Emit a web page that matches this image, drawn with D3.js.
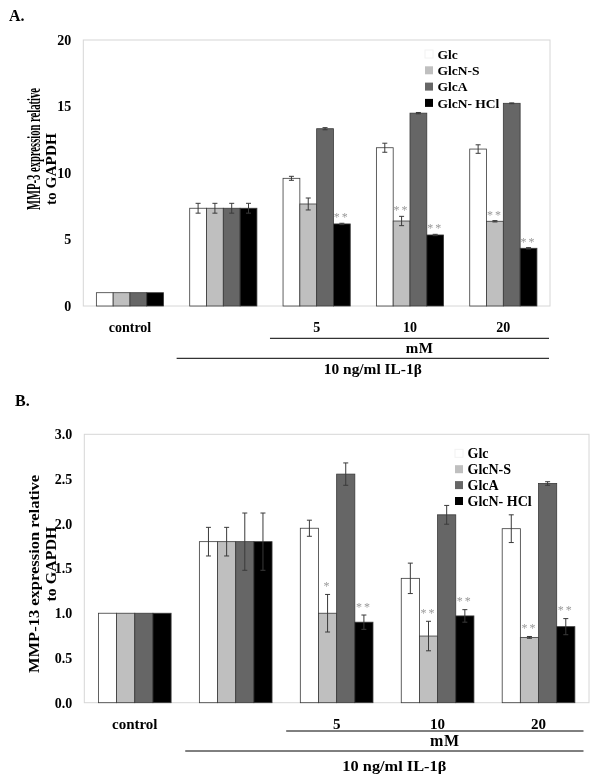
<!DOCTYPE html>
<html>
<head>
<meta charset="utf-8">
<script src="https://cdn.jsdelivr.net/npm/d3@7"></script>
<style>
  html, body { margin: 0; padding: 0; background: #fff; }
  svg { display: block; will-change: transform; }
</style>
</head>
<body>
<svg id="chart" width="600" height="783"></svg>
<script>
// ---------- DATA ----------
const groups = ["control", "", "5", "10", "20"];
const series = ["Glc", "GlcN-S", "GlcA", "GlcN- HCl"];
const seriesColors = ["#ffffff", "#bfbfbf", "#666666", "#000000"];

// Panel A: MMP-3
const mmp3Glc      = [1.0, 7.35, 9.6, 11.9, 11.8];
const mmp3GlcNS    = [1.0, 7.35, 7.67, 6.39, 6.37];
const mmp3GlcA     = [1.0, 7.35, 13.33, 14.5, 15.24];
const mmp3GlcNHCl  = [1.0, 7.35, 6.17, 5.34, 4.34];
const mmp3GlcErr     = [0, 0.37, 0.15, 0.34, 0.32];
const mmp3GlcNSErr   = [0, 0.37, 0.45, 0.35, 0.05];
const mmp3GlcAErr    = [0, 0.37, 0.08, 0.05, 0.03];
const mmp3GlcNHClErr = [0, 0.37, 0.05, 0.05, 0.05];
const mmp3Ticks = [0, 5, 10, 15, 20];
const mmp3Sig = [["5", "GlcN- HCl", "**"], ["10", "GlcN-S", "**"], ["10", "GlcN- HCl", "**"],
                 ["20", "GlcN-S", "**"], ["20", "GlcN- HCl", "**"]];

// Panel B: MMP-13
const mmp13Glc      = [1.0, 1.80, 1.95, 1.39, 1.945];
const mmp13GlcNS    = [1.0, 1.80, 1.0, 0.745, 0.73];
const mmp13GlcA     = [1.0, 1.80, 2.555, 2.10, 2.45];
const mmp13GlcNHCl  = [1.0, 1.80, 0.90, 0.97, 0.85];
const mmp13GlcErr     = [0, 0.16, 0.09, 0.17, 0.155];
const mmp13GlcNSErr   = [0, 0.16, 0.21, 0.165, 0.01];
const mmp13GlcAErr    = [0, 0.32, 0.125, 0.105, 0.02];
const mmp13GlcNHClErr = [0, 0.32, 0.08, 0.07, 0.09];
const mmp13Ticks = [0, 0.5, 1.0, 1.5, 2.0, 2.5, 3.0];
const mmp13Sig = [["5", "GlcN-S", "*"], ["5", "GlcN- HCl", "**"], ["10", "GlcN-S", "**"],
                  ["10", "GlcN- HCl", "**"], ["20", "GlcN-S", "**"], ["20", "GlcN- HCl", "**"]];

const concLabel = "mM";
const stimLabel = "10 ng/ml IL-1\u03b2";

// ---------- DRAWING ----------
const serif = "'Liberation Serif', 'Times New Roman', serif";
const svg = d3.select("#chart");

function drawPanel(cfg) {
  const g = svg.append("g");
  const x = d3.scaleBand().domain(groups).range([cfg.left, cfg.right])
    .paddingInner(0.28).paddingOuter(0.14);
  const xs = d3.scaleBand().domain(series).range([0, x.bandwidth()]);
  const y = d3.scaleLinear().domain([0, cfg.max]).range([cfg.bottom, cfg.top]);

  // panel letter
  g.append("text").attr("x", cfg.letterX).attr("y", cfg.letterY)
    .attr("font-family", serif).attr("font-weight", "bold").attr("font-size", 16)
    .text(cfg.letter);

  // frame
  g.append("rect").attr("x", cfg.left).attr("y", cfg.top)
    .attr("width", cfg.right - cfg.left).attr("height", cfg.bottom - cfg.top)
    .attr("fill", "none").attr("stroke", "#d6d6d6").attr("stroke-width", 1);

  // y axis
  const ya = g.append("g").attr("transform", `translate(${cfg.left},0)`)
    .call(d3.axisLeft(y).tickValues(cfg.ticks).tickSize(0).tickPadding(12).tickFormat(cfg.fmt));
  ya.select(".domain").remove();
  ya.selectAll("text").attr("font-family", serif).attr("font-weight", "bold")
    .attr("font-size", 14).attr("fill", "#000");

  // y title
  const tl = g.append("g").attr("font-family", serif).attr("font-weight", "bold")
    .attr("text-anchor", "middle");
  cfg.titles.forEach(t => {
    tl.append("text").attr("transform", `translate(${t.x},${t.y}) rotate(-90)`)
      .attr("font-size", t.size)
      .attr("dy", "0.35em").attr("textLength", t.len).attr("lengthAdjust", "spacingAndGlyphs")
      .text(t.text);
  });

  // bars
  series.forEach((s, si) => {
    g.append("g").selectAll("rect").data(groups).join("rect")
      .attr("x", d => x(d) + xs(s))
      .attr("y", (d, i) => y(cfg.values[si][i]))
      .attr("width", xs.bandwidth())
      .attr("height", (d, i) => y(0) - y(cfg.values[si][i]))
      .attr("fill", seriesColors[si])
      .attr("stroke", "#3a3a3a").attr("stroke-width", 0.8);
  });

  // error bars
  series.forEach((s, si) => {
    groups.forEach((gr, i) => {
      const v = cfg.values[si][i], e = cfg.errs[si][i];
      if (!e) return;
      const cx = x(gr) + xs(s) + xs.bandwidth() / 2;
      const eg = g.append("g").attr("stroke", "#3a3a3a").attr("stroke-width", 1);
      eg.append("line").attr("x1", cx).attr("x2", cx).attr("y1", y(v + e)).attr("y2", y(v - e));
      eg.append("line").attr("x1", cx - 2.5).attr("x2", cx + 2.5).attr("y1", y(v + e)).attr("y2", y(v + e));
      eg.append("line").attr("x1", cx - 2.5).attr("x2", cx + 2.5).attr("y1", y(v - e)).attr("y2", y(v - e));
    });
  });

  // significance stars
  const sg = g.append("g");
  cfg.sig.forEach(([gr, s, mark]) => {
    const si = series.indexOf(s), i = groups.indexOf(gr);
    const top = y(cfg.values[si][i] + cfg.errs[si][i]);
    sg.append("text").attr("x", x(gr) + xs(s) + xs.bandwidth() / 2)
      .attr("y", top - cfg.starGap)
      .attr("text-anchor", "middle").attr("font-family", serif).attr("font-size", 12)
      .attr("letter-spacing", 2).attr("fill", "#999999").text(mark);
  });

  // legend
  const lg = g.append("g").attr("font-family", serif).attr("font-weight", "bold")
    .attr("font-size", cfg.legFont);
  series.forEach((s, si) => {
    const cy = cfg.legY + si * cfg.legStep;
    lg.append("rect").attr("x", cfg.legX).attr("y", cy - 4).attr("width", 8).attr("height", 8)
      .attr("fill", seriesColors[si]).attr("stroke", si === 0 ? "#f2f2f2" : "none");
    lg.append("text").attr("x", cfg.legX + 12.5).attr("y", cy).attr("dy", "0.35em").text(s);
  });

  // category labels
  const xa = g.append("g").attr("transform", `translate(0,${cfg.bottom})`)
    .call(d3.axisBottom(x).tickSize(0).tickPadding(16));
  xa.select(".domain").remove();
  xa.selectAll("text").attr("font-family", serif).attr("font-weight", "bold")
    .attr("font-size", cfg.catFont).attr("fill", "#000");

  // brackets
  const half = x.step() * x.paddingInner() / 2;
  const l1x1 = x(groups[2]) - half, l2x1 = x(groups[1]) - half, lx2 = cfg.right - cfg.lineInset;
  g.append("line").attr("x1", l1x1).attr("x2", lx2).attr("y1", cfg.line1Y).attr("y2", cfg.line1Y)
    .attr("stroke", "#000").attr("stroke-width", 1);
  g.append("line").attr("x1", l2x1).attr("x2", lx2).attr("y1", cfg.line2Y).attr("y2", cfg.line2Y)
    .attr("stroke", "#000").attr("stroke-width", 1);
  g.append("text").attr("x", (l1x1 + lx2) / 2 + 10).attr("y", cfg.mmY)
    .attr("text-anchor", "middle").attr("font-family", serif).attr("font-weight", "bold")
    .attr("font-size", cfg.catFont + 1).attr("letter-spacing", 0.5).text(concLabel);
  g.append("text").attr("x", (l2x1 + lx2) / 2 + 10).attr("y", cfg.ilY)
    .attr("text-anchor", "middle").attr("font-family", serif).attr("font-weight", "bold")
    .attr("font-size", cfg.catFont).attr("textLength", cfg.ilLen).attr("lengthAdjust", "spacingAndGlyphs")
    .text(stimLabel);
}

drawPanel({
  letter: "A.", letterX: 9, letterY: 21,
  left: 83.3, right: 550, top: 40, bottom: 306, max: 20,
  ticks: mmp3Ticks, fmt: d3.format("d"),
  values: [mmp3Glc, mmp3GlcNS, mmp3GlcA, mmp3GlcNHCl],
  errs: [mmp3GlcErr, mmp3GlcNSErr, mmp3GlcAErr, mmp3GlcNHClErr],
  sig: mmp3Sig, starGap: 2,
  titles: [{ text: "MMP-3 expression relative", x: 33.5, y: 149, len: 122, size: 18 },
           { text: "to GAPDH", x: 50.5, y: 169, len: 72, size: 15.5 }],
  legX: 425, legY: 54, legStep: 16.3, legFont: 13.5,
  catFont: 14, lineInset: 1, line1Y: 338.3, line2Y: 358.3, mmY: 353.3, ilY: 373.5, ilLen: 98
});

drawPanel({
  letter: "B.", letterX: 15, letterY: 406,
  left: 84.3, right: 589, top: 434.3, bottom: 702.7, max: 3,
  ticks: mmp13Ticks, fmt: d3.format(".1f"),
  values: [mmp13Glc, mmp13GlcNS, mmp13GlcA, mmp13GlcNHCl],
  errs: [mmp13GlcErr, mmp13GlcNSErr, mmp13GlcAErr, mmp13GlcNHClErr],
  sig: mmp13Sig, starGap: 4.5,
  titles: [{ text: "MMP-13 expression relative", x: 34, y: 574, len: 198, size: 15 },
           { text: "to GAPDH", x: 50.5, y: 564, len: 75, size: 15 }],
  legX: 455, legY: 453.3, legStep: 15.9, legFont: 14,
  catFont: 15, lineInset: 5.5, line1Y: 731, line2Y: 751, mmY: 745.7, ilY: 771, ilLen: 104
});
</script>
</body>
</html>
